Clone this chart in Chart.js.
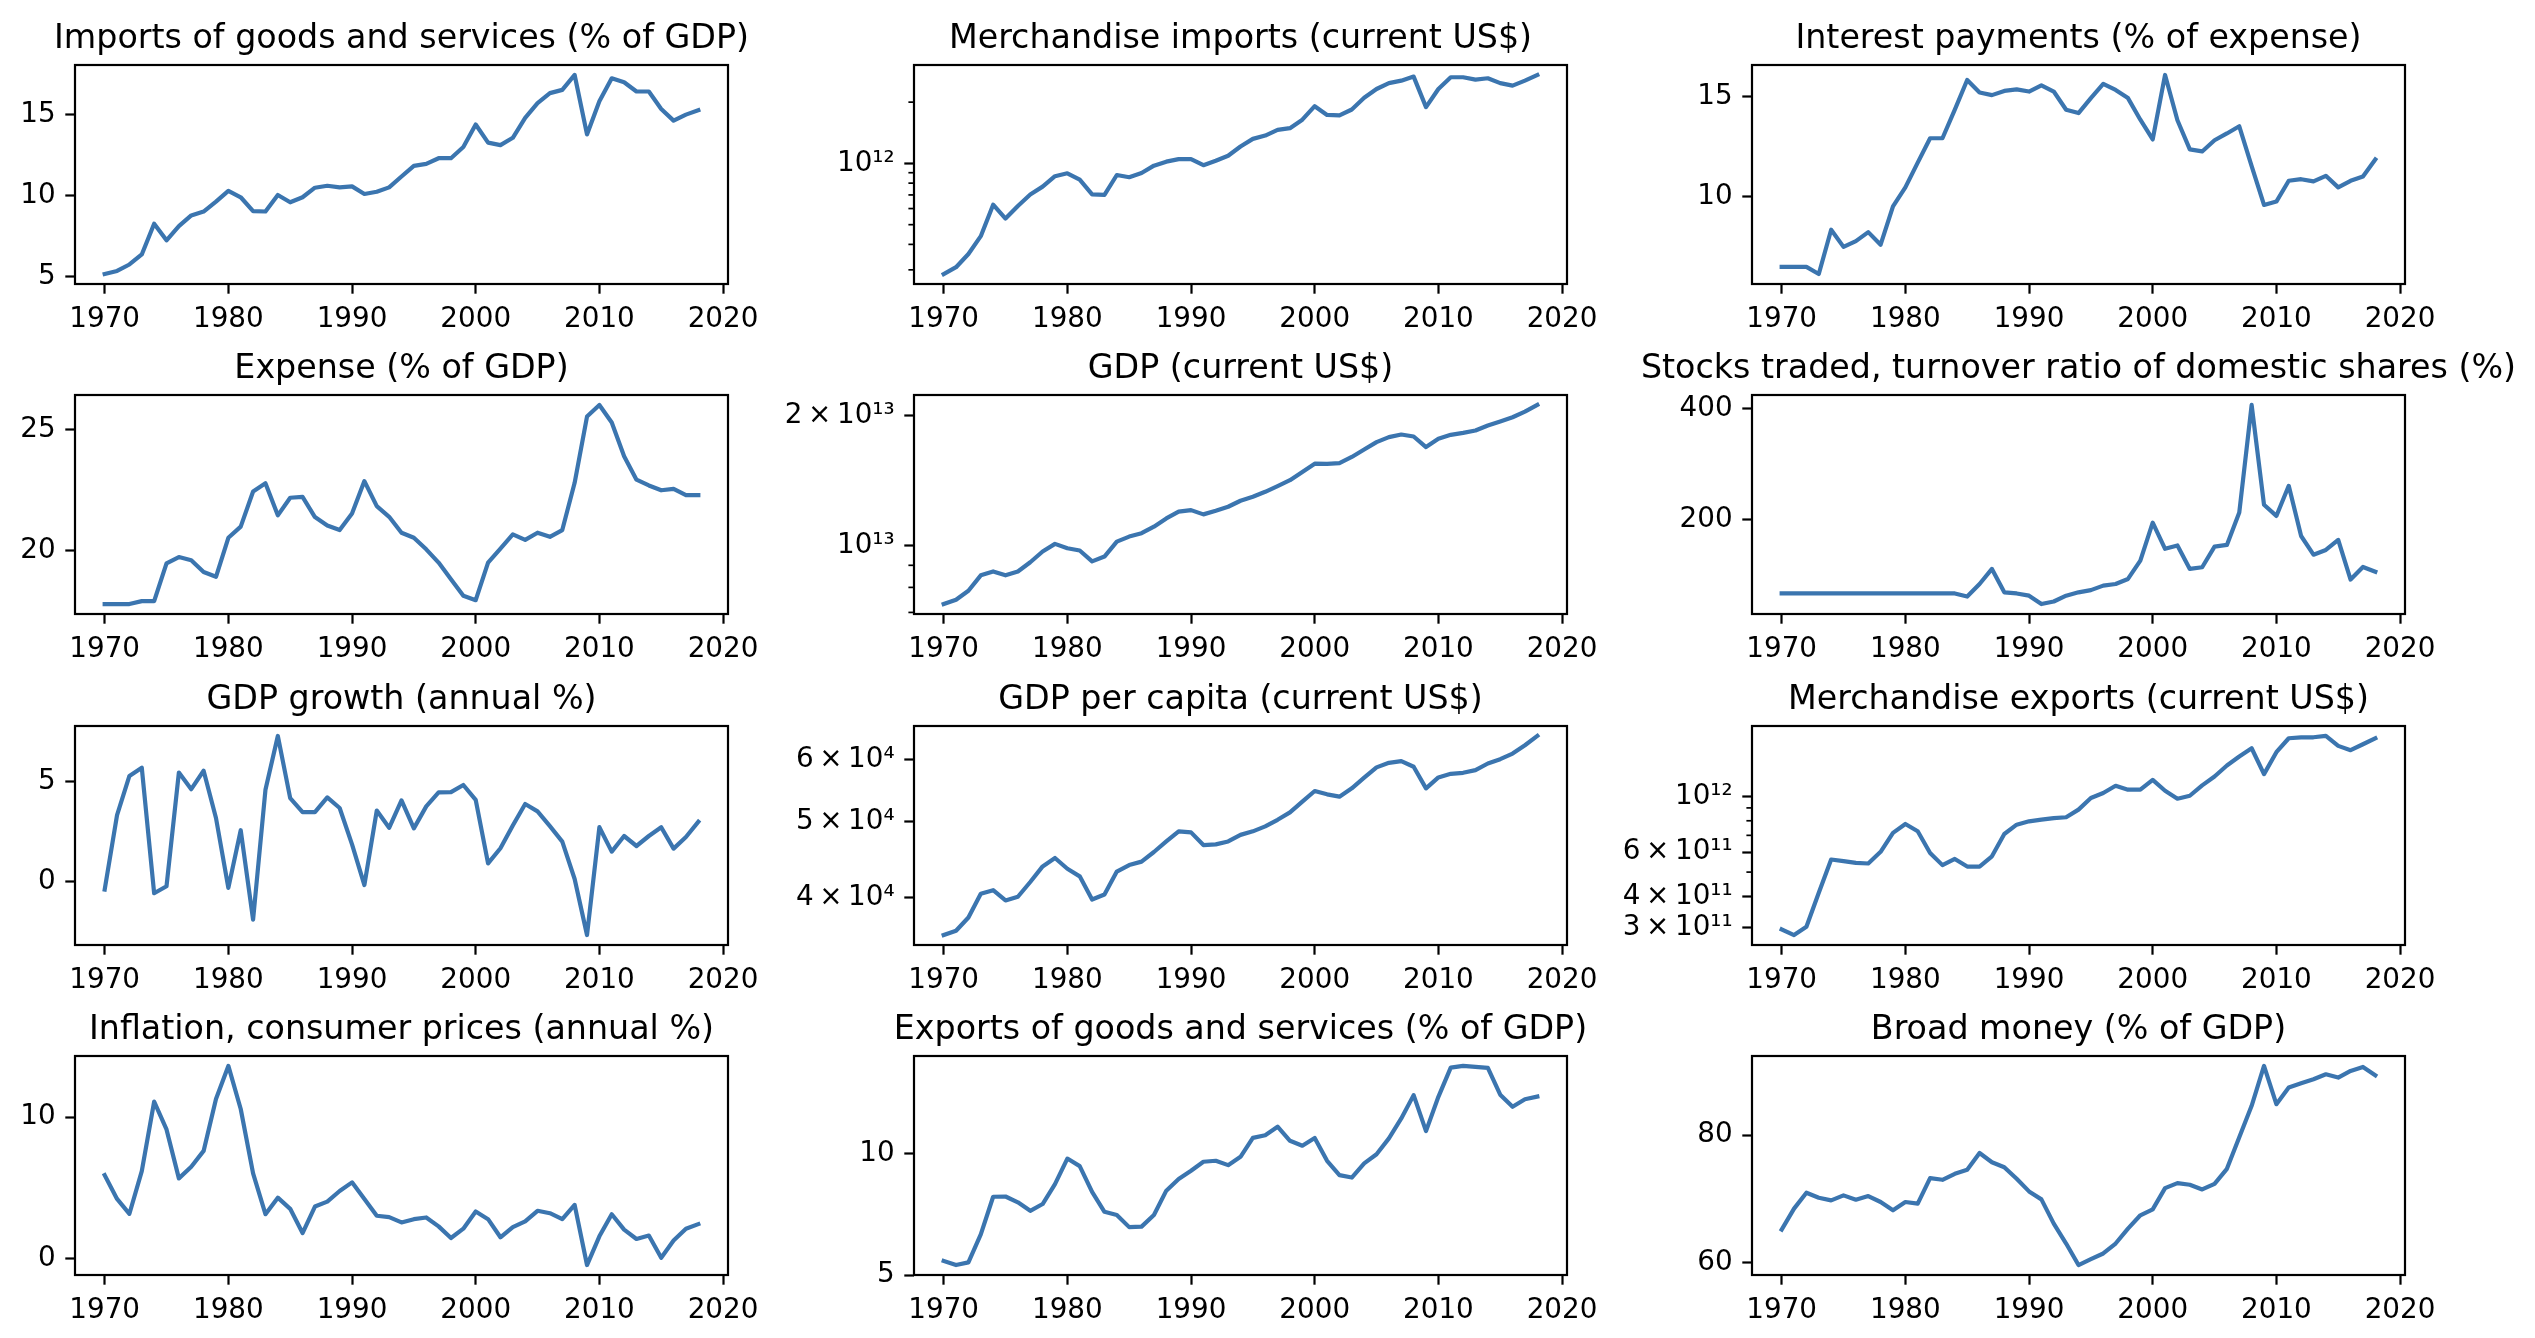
<!DOCTYPE html>
<html>
<head>
<meta charset="utf-8">
<title>Indicators 1970-2018</title>
<script src="https://cdn.jsdelivr.net/npm/chart.js@4.4.1/dist/chart.umd.min.js"></script>
<style>
  body { margin: 0; background: #fff; }
  #fig { position: relative; width: 2535px; height: 1338px; overflow: hidden; background: #fff; }
  #fig canvas { position: absolute; }
</style>
</head>
<body>
<div id="fig"></div>
<script>
// --- data -------------------------------------------------------------

const years = [
  1970, 1971, 1972, 1973, 1974, 1975, 1976, 1977, 1978, 1979,
  1980, 1981, 1982, 1983, 1984, 1985, 1986, 1987, 1988, 1989,
  1990, 1991, 1992, 1993, 1994, 1995, 1996, 1997, 1998, 1999,
  2000, 2001, 2002, 2003, 2004, 2005, 2006, 2007, 2008, 2009,
  2010, 2011, 2012, 2013, 2014, 2015, 2016, 2017, 2018
];
const yearTicks = [1970, 1980, 1990, 2000, 2010, 2020];

const importsPctGdp = [
  5.16, 5.35, 5.75, 6.37, 8.27, 7.24, 8.12, 8.78, 9.02, 9.63,
  10.29, 9.9, 9.04, 9.02, 10.04, 9.59, 9.9, 10.49, 10.61, 10.51,
  10.57, 10.1, 10.24, 10.51, 11.18, 11.84, 11.96, 12.31, 12.31, 13.0,
  14.39, 13.27, 13.12, 13.57, 14.8, 15.71, 16.33, 16.53, 17.45, 13.78,
  15.82, 17.24, 17.0, 16.43, 16.43, 15.35, 14.63, 15.0, 15.27
];
const importsTicks = [5, 10, 15];

const merchImports = [
  2.86e11, 3.09e11, 3.59e11, 4.39e11, 6.27e11, 5.36e11, 6.18e11, 7.04e11, 7.69e11, 8.65e11,
  8.94e11, 8.32e11, 7.04e11, 7.01e11, 8.77e11, 8.55e11, 8.97e11, 9.75e11, 1.02e12, 1.05e12,
  1.05e12, 9.8e11, 1.03e12, 1.09e12, 1.21e12, 1.32e12, 1.37e12, 1.46e12, 1.49e12, 1.64e12,
  1.91e12, 1.73e12, 1.72e12, 1.84e12, 2.10e12, 2.32e12, 2.48e12, 2.55e12, 2.67e12, 1.89e12,
  2.32e12, 2.65e12, 2.65e12, 2.58e12, 2.62e12, 2.48e12, 2.41e12, 2.55e12, 2.72e12
];
const merchImportsTicks = [1e12];
const merchImportsLabels = ["10\u00b9\u00b2"];
const merchImportsMinor = [3e11, 4e11, 5e11, 6e11, 7e11, 8e11, 9e11, 2e12];

const interestPct = [
  6.47, 6.47, 6.47, 6.11, 8.33, 7.47, 7.76, 8.21, 7.58, 9.5,
  10.45, 11.69, 12.91, 12.91, 14.34, 15.83, 15.2, 15.07, 15.28, 15.36,
  15.25, 15.56, 15.25, 14.34, 14.17, 14.92, 15.63, 15.33, 14.92, 13.84,
  12.85, 16.08, 13.81, 12.35, 12.25, 12.81, 13.15, 13.51, 11.52, 9.57,
  9.74, 10.78, 10.86, 10.75, 11.03, 10.45, 10.78, 10.99, 11.85
];
const interestTicks = [10, 15];

const expensePct = [
  17.77, 17.77, 17.77, 17.89, 17.89, 19.46, 19.72, 19.59, 19.1, 18.9,
  20.52, 20.98, 22.44, 22.78, 21.45, 22.18, 22.22, 21.38, 21.03, 20.84,
  21.53, 22.87, 21.83, 21.39, 20.73, 20.52, 20.04, 19.49, 18.8, 18.11,
  17.93, 19.49, 20.07, 20.66, 20.43, 20.73, 20.56, 20.84, 22.8, 25.55,
  26.03, 25.3, 23.9, 22.93, 22.69, 22.49, 22.55, 22.29, 22.29
];
const expenseTicks = [20, 25];

const gdpUsd = [
  7.32e12, 7.49e12, 7.86e12, 8.53e12, 8.71e12, 8.53e12, 8.71e12, 9.15e12, 9.69e12, 1.009e13,
  9.86e12, 9.74e12, 9.19e12, 9.43e12, 1.021e13, 1.049e13, 1.068e13, 1.106e13, 1.156e13, 1.198e13,
  1.208e13, 1.181e13, 1.204e13, 1.230e13, 1.270e13, 1.297e13, 1.332e13, 1.373e13, 1.417e13, 1.481e13,
  1.548e13, 1.546e13, 1.553e13, 1.604e13, 1.670e13, 1.736e13, 1.783e13, 1.808e13, 1.789e13, 1.691e13,
  1.767e13, 1.805e13, 1.824e13, 1.847e13, 1.897e13, 1.938e13, 1.983e13, 2.043e13, 2.117e13
];
const gdpTicks = [1e13, 2e13];
const gdpLabels = ["10\u00b9\u00b3", "2\u2009\u00d7\u200910\u00b9\u00b3"];
const gdpMinor = [7e12, 8e12, 9e12];

const stocksTurnover = [
  68, 68, 68, 68, 68, 68, 68, 68, 68, 68,
  68, 68, 68, 68, 68, 62.5, 85, 112, 70, 68,
  64, 49, 53.6, 64, 70, 74, 82, 85, 94, 127,
  195, 148, 154, 112, 115, 152, 155, 213, 406, 227,
  207, 261, 171, 137.5, 146, 164, 93, 115.5, 107
];
const stocksTicks = [200, 400];

const gdpGrowth = [
  -0.4, 3.32, 5.28, 5.69, -0.58, -0.23, 5.45, 4.62, 5.54, 3.18,
  -0.31, 2.57, -1.9, 4.59, 7.28, 4.17, 3.47, 3.47, 4.21, 3.68,
  1.86, -0.17, 3.55, 2.69, 4.06, 2.66, 3.76, 4.46, 4.47, 4.83,
  4.09, 0.91, 1.67, 2.8, 3.88, 3.51, 2.77, 2.0, 0.13, -2.67,
  2.72, 1.5, 2.28, 1.78, 2.28, 2.72, 1.65, 2.23, 2.99
];
const growthTicks = [0, 5];

const gdpPerCapita = [
  3.585e4, 3.63e4, 3.775e4, 4.047e4, 4.09e4, 3.969e4, 4.012e4, 4.19e4, 4.386e4, 4.496e4,
  4.356e4, 4.26e4, 3.98e4, 4.039e4, 4.32e4, 4.404e4, 4.448e4, 4.576e4, 4.72e4, 4.862e4,
  4.847e4, 4.67e4, 4.68e4, 4.72e4, 4.812e4, 4.862e4, 4.933e4, 5.03e4, 5.14e4, 5.306e4,
  5.474e4, 5.421e4, 5.384e4, 5.517e4, 5.692e4, 5.867e4, 5.947e4, 5.976e4, 5.878e4, 5.517e4,
  5.697e4, 5.758e4, 5.775e4, 5.82e4, 5.935e4, 6.01e4, 6.11e4, 6.262e4, 6.435e4
];
const perCapitaTicks = [4e4, 5e4, 6e4];
const perCapitaLabels = ["4\u2009\u00d7\u200910\u2074", "5\u2009\u00d7\u200910\u2074", "6\u2009\u00d7\u200910\u2074"];

const merchExports = [
  2.96e11, 2.81e11, 3.03e11, 4.14e11, 5.61e11, 5.53e11, 5.44e11, 5.41e11, 6.02e11, 7.16e11,
  7.77e11, 7.27e11, 5.96e11, 5.33e11, 5.64e11, 5.26e11, 5.26e11, 5.78e11, 7.09e11, 7.72e11,
  7.96e11, 8.08e11, 8.2e11, 8.26e11, 8.86e11, 9.85e11, 1.031e12, 1.102e12, 1.063e12, 1.063e12,
  1.164e12, 1.053e12, 9.79e11, 1.006e12, 1.106e12, 1.2e12, 1.327e12, 1.44e12, 1.554e12, 1.226e12,
  1.499e12, 1.703e12, 1.718e12, 1.718e12, 1.739e12, 1.588e12, 1.526e12, 1.612e12, 1.703e12
];
const merchExportsTicks = [3e11, 4e11, 6e11, 1e12];
const merchExportsLabels = [
  "3\u2009\u00d7\u200910\u00b9\u00b9", "4\u2009\u00d7\u200910\u00b9\u00b9",
  "6\u2009\u00d7\u200910\u00b9\u00b9", "10\u00b9\u00b2"
];
const merchExportsMinor = [5e11, 7e11, 8e11, 9e11];

const inflation = [
  5.91, 4.23, 3.18, 6.19, 11.1, 9.14, 5.68, 6.5, 7.62, 11.29,
  13.62, 10.58, 6.03, 3.15, 4.32, 3.53, 1.82, 3.69, 4.04, 4.79,
  5.4, 4.23, 3.04, 2.94, 2.57, 2.8, 2.92, 2.29, 1.47, 2.13,
  3.34, 2.8, 1.52, 2.24, 2.64, 3.39, 3.22, 2.8, 3.81, -0.44,
  1.59, 3.15, 2.06, 1.4, 1.64, 0.07, 1.29, 2.13, 2.45
];
const inflationTicks = [0, 10];

const exportsPctGdp = [
  5.58, 5.41, 5.52, 6.67, 8.22, 8.23, 7.99, 7.64, 7.92, 8.74,
  9.79, 9.48, 8.42, 7.6, 7.47, 6.97, 6.99, 7.47, 8.47, 8.95,
  9.29, 9.66, 9.7, 9.52, 9.86, 10.64, 10.75, 11.1, 10.52, 10.32,
  10.64, 9.7, 9.11, 9.01, 9.59, 9.97, 10.62, 11.44, 12.4, 10.92,
  12.33, 13.53, 13.6, 13.56, 13.52, 12.42, 11.92, 12.23, 12.34
];
const exportsTicks = [5, 10];

const broadMoney = [
  65.19, 68.47, 70.96, 70.18, 69.77, 70.55, 69.87, 70.44, 69.51, 68.21,
  69.51, 69.25, 73.25, 72.99, 73.92, 74.55, 77.19, 75.74, 74.96, 73.14,
  71.17, 69.92, 66.13, 63.01, 59.64, 60.57, 61.45, 63.01, 65.35, 67.43,
  68.36, 71.69, 72.47, 72.21, 71.48, 72.36, 74.7, 79.64, 84.57, 90.81,
  84.83, 87.43, 88.1, 88.73, 89.51, 88.99, 90.03, 90.65, 89.35
];
const broadMoneyTicks = [60, 80];

// --- layout ------------------------------------------------------------

const FONT = "'DejaVu Sans', sans-serif";
const LINE_COLOR = "#3b75af";
const AX_W = 653, AX_H = 219;
const COL_X = [75, 914, 1752];
const ROW_Y = [65, 395, 726, 1056];
const SIDE = 170, TOP = 70, BOTTOM = 60;

const panels = [
  { title: "Imports of goods and services (% of GDP)", values: importsPctGdp, ticks: importsTicks },
  { title: "Merchandise imports (current US$)", values: merchImports, log: true,
    ticks: merchImportsTicks, labels: merchImportsLabels, minor: merchImportsMinor },
  { title: "Interest payments (% of expense)", values: interestPct, ticks: interestTicks },
  { title: "Expense (% of GDP)", values: expensePct, ticks: expenseTicks },
  { title: "GDP (current US$)", values: gdpUsd, log: true,
    ticks: gdpTicks, labels: gdpLabels, minor: gdpMinor },
  { title: "Stocks traded, turnover ratio of domestic shares (%)", values: stocksTurnover, ticks: stocksTicks },
  { title: "GDP growth (annual %)", values: gdpGrowth, ticks: growthTicks },
  { title: "GDP per capita (current US$)", values: gdpPerCapita, log: true,
    ticks: perCapitaTicks, labels: perCapitaLabels },
  { title: "Merchandise exports (current US$)", values: merchExports, log: true,
    ticks: merchExportsTicks, labels: merchExportsLabels, minor: merchExportsMinor },
  { title: "Inflation, consumer prices (annual %)", values: inflation, ticks: inflationTicks },
  { title: "Exports of goods and services (% of GDP)", values: exportsPctGdp, ticks: exportsTicks },
  { title: "Broad money (% of GDP)", values: broadMoney, ticks: broadMoneyTicks }
];

// matplotlib-style autoscale: data range plus 5% on each side
function paddedRange(values, log) {
  const v = log ? values.map(Math.log10) : values;
  const lo = Math.min(...v), hi = Math.max(...v);
  const m = (hi - lo) * 0.05;
  return log ? [Math.pow(10, lo - m), Math.pow(10, hi + m)] : [lo - m, hi + m];
}

// spines, short minor ticks and the axes title
const axesFrame = {
  id: "axesFrame",
  afterDraw(chart, args, opts) {
    const { ctx, chartArea: a } = chart;
    const y = chart.scales.y;
    ctx.save();
    ctx.strokeStyle = "#000";
    ctx.lineWidth = 1.7;
    (opts.minor || []).forEach(v => {
      if (v < y.min || v > y.max) return;
      const py = y.getPixelForValue(v);
      ctx.beginPath();
      ctx.moveTo(a.left - 5.6, py);
      ctx.lineTo(a.left, py);
      ctx.stroke();
    });
    ctx.lineWidth = 2.2;
    ctx.strokeRect(a.left, a.top, a.right - a.left, a.bottom - a.top);
    ctx.fillStyle = "#000";
    ctx.font = "33.3px " + FONT;
    ctx.textAlign = "center";
    ctx.textBaseline = "alphabetic";
    ctx.fillText(opts.title, (a.left + a.right) / 2, a.top - 16.7);
    ctx.restore();
  }
};

const fig = document.getElementById("fig");
const xRange = paddedRange(years, false);
const tickFont = { family: FONT, size: 27.8 };

panels.forEach((p, i) => {
  const col = i % 3, row = Math.floor(i / 3);
  const canvas = document.createElement("canvas");
  canvas.width = AX_W + 2 * SIDE;
  canvas.height = TOP + AX_H + BOTTOM;
  canvas.style.left = (COL_X[col] - SIDE) + "px";
  canvas.style.top = (ROW_Y[row] - TOP) + "px";
  canvas.style.width = canvas.width + "px";
  canvas.style.height = canvas.height + "px";
  fig.appendChild(canvas);

  const yRange = paddedRange(p.values, p.log);
  const yLabel = v => {
    const k = p.ticks.findIndex(t => Math.abs(t - v) <= Math.abs(t) * 1e-9);
    if (k < 0) return "";
    return p.labels ? p.labels[k] : String(p.ticks[k]);
  };

  new Chart(canvas, {
    type: "line",
    data: {
      datasets: [{
        data: years.map((x, k) => ({ x, y: p.values[k] })),
        borderColor: LINE_COLOR,
        borderWidth: 4.2,
        borderJoinStyle: "round",
        borderCapStyle: "square",
        pointRadius: 0,
        tension: 0,
        fill: false
      }]
    },
    options: {
      animation: false,
      responsive: false,
      devicePixelRatio: 1,
      layout: { padding: { top: TOP, right: SIDE, left: 0, bottom: 0 } },
      plugins: {
        legend: { display: false },
        tooltip: { enabled: false },
        axesFrame: { title: p.title, minor: p.minor }
      },
      scales: {
        x: {
          type: "linear",
          bounds: "data",
          min: xRange[0],
          max: xRange[1],
          afterFit: s => { s.height = BOTTOM; },
          afterBuildTicks: s => { s.ticks = yearTicks.map(v => ({ value: v })); },
          ticks: {
            callback: v => String(v),
            font: tickFont,
            color: "#000",
            padding: 9.7,
            maxRotation: 0,
            minRotation: 0,
            autoSkip: false
          },
          grid: { drawOnChartArea: false, tickLength: 9.7, tickWidth: 2.2, tickColor: "#000" },
          border: { display: false }
        },
        y: {
          type: p.log ? "logarithmic" : "linear",
          bounds: "data",
          min: yRange[0],
          max: yRange[1],
          afterFit: s => { s.width = SIDE; },
          afterBuildTicks: s => { s.ticks = p.ticks.map(v => ({ value: v })); },
          ticks: {
            callback: v => yLabel(v),
            font: tickFont,
            color: "#000",
            padding: 9.7,
            autoSkip: false
          },
          grid: { drawOnChartArea: false, tickLength: 9.7, tickWidth: 2.2, tickColor: "#000" },
          border: { display: false }
        }
      }
    },
    plugins: [axesFrame]
  });
});
</script>
</body>
</html>
